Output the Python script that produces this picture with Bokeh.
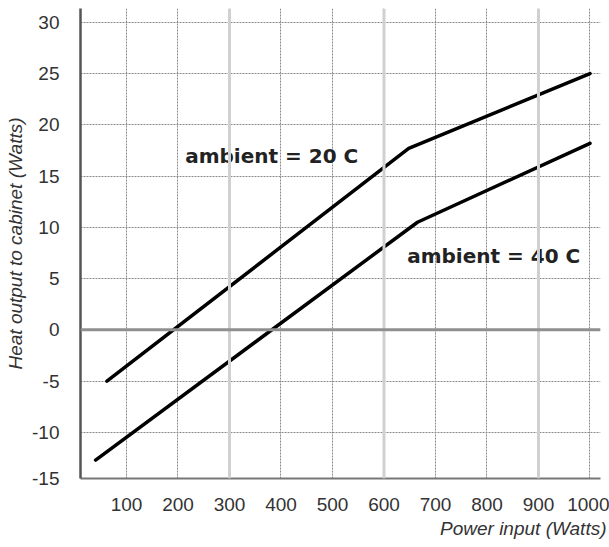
from bokeh.plotting import figure
from bokeh.models import FixedTicker, Span, Range1d, Title
from bokeh.core.properties import value
from bokeh.embed import file_html
from bokeh.resources import INLINE

# Data
x_20 = [62, 648, 1000]
y_20 = [-5.0, 17.7, 25.0]
x_40 = [40, 665, 1000]
y_40 = [-12.7, 10.5, 18.2]
labels = ["ambient = 20 C", "ambient = 40 C"]
label_x = [214, 645]
label_y = [17.0, 7.2]
x_ticks = [100, 200, 300, 400, 500, 600, 700, 800, 900, 1000]
y_ticks = [-14.5, -10, -5, 0, 5, 10, 15, 20, 25, 30]
y_tick_text = ["-15", "-10", "-5", "0", "5", "10", "15", "20", "25", "30"]
highlight_x = [300, 600, 900]
x_title = "Power input (Watts)"
y_title = "Heat output to cabinet (Watts)"

p = figure(width=609, height=547, output_backend="svg", toolbar_location=None,
           x_range=Range1d(10.7, 1020.4), y_range=Range1d(-14.5, 31.35),
           min_border_left=80, min_border_right=9, min_border_top=8, min_border_bottom=69)
p.outline_line_color = None
p.background_fill_color = "white"
p.border_fill_color = "white"

tick_font = "Liberation Sans"
for ax in (p.xaxis[0], p.yaxis[0]):
    ax.major_label_text_font = tick_font
    ax.major_label_text_font_size = "19px"
    ax.major_label_text_color = "#333333"
    ax.major_tick_line_color = None
    ax.minor_tick_line_color = None
    ax.axis_label_text_font = tick_font
    ax.axis_label_text_font_style = "italic"
    ax.axis_label_text_font_size = "19px"
    ax.axis_label_text_color = "#333333"

p.xaxis.ticker = FixedTicker(ticks=x_ticks)
p.yaxis.ticker = FixedTicker(ticks=y_ticks)
p.yaxis.major_label_overrides = dict(zip(y_ticks, y_tick_text))
p.yaxis.axis_label = y_title
p.xaxis.major_label_standoff = 13
p.yaxis.major_label_standoff = 15
p.yaxis.axis_label_standoff = 3
p.yaxis.axis_line_color = "#555555"
p.yaxis.axis_line_width = 2.5
p.xaxis.axis_line_color = "#777777"
p.xaxis.axis_line_width = 2

p.add_layout(Title(text=x_title, align="right", offset=-6, standoff=4,
                   text_font=tick_font, text_font_style="italic", text_font_size="19px",
                   text_color="#333333"), "below")

for g in (p.xgrid[0], p.ygrid[0]):
    g.grid_line_color = "#8a8a8a"
    g.grid_line_dash = "2 1"
    g.grid_line_width = 1

for hx in highlight_x:
    p.add_layout(Span(location=hx, dimension="height", line_color="#d0d0d0", line_width=3))
p.add_layout(Span(location=0, dimension="width", line_color="#8f8f8f", line_width=3))

p.line(x_20, y_20, line_color="black", line_width=3.5, line_cap="round", line_join="round")
p.line(x_40, y_40, line_color="black", line_width=3.5, line_cap="round", line_join="round")

p.text(x=label_x, y=label_y, text=labels, text_font=value("DejaVu Sans"), text_font_style="bold",
       text_font_size="20px", text_baseline="middle", text_align="left", text_color="#222222")

open("out.html", "w").write(file_html(p, INLINE))
